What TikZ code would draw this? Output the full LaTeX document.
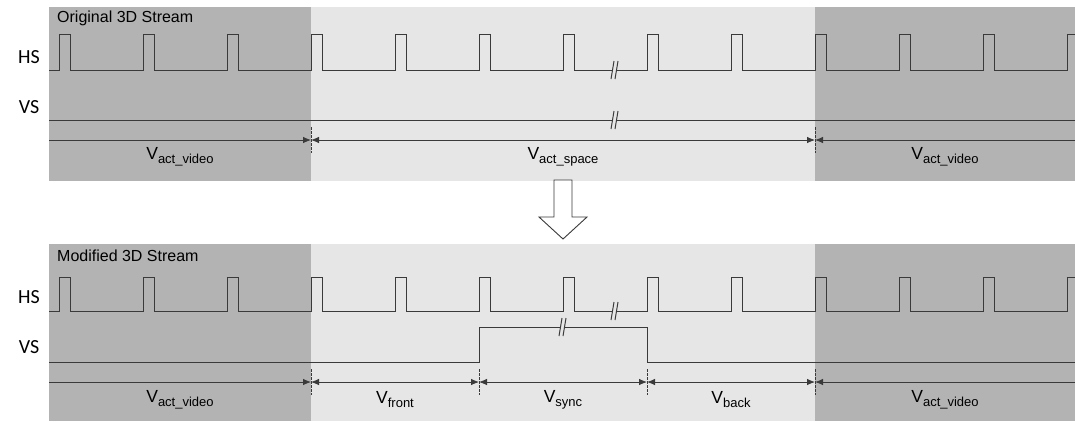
\documentclass[tikz,border=0pt]{standalone}
\usepackage{fontspec}
\setmainfont{Liberation Sans}
\newfontfamily\sigfont{Carlito}
\usetikzlibrary{calc, arrows.meta}

\definecolor{dark}{HTML}{B3B3B3}
\definecolor{lite}{HTML}{E6E6E6}
\definecolor{wire}{HTML}{3A3A3A}

\newcommand{\vsub}[1]{V\raisebox{-4pt}{\fontsize{13}{13}\selectfont #1}}

\tikzset{
	sig/.style={draw=wire, line width=1pt},
	dimline/.style={draw=wire, line width=0.85pt},
	tickline/.style={draw=wire, line width=0.7pt, dash pattern=on 2.5pt off 1.5pt},
	signame/.style={font=\sigfont\fontsize{20}{20}\selectfont, inner sep=0pt},
	heading/.style={font=\fontsize{16}{16}\selectfont, anchor=west, inner sep=0pt},
	spanlbl/.style={font=\fontsize{17.5}{17.5}\selectfont, inner sep=0pt}
}

\begin{document}
\begin{tikzpicture}[x=1pt, y=-1pt, every path/.style={>={Latex[length=8pt, width=6.5pt]}}]
	\useasboundingbox (0,0) rectangle (1075,421);

	% backgrounds
	\fill[dark] (49,7) rectangle (311,181);
	\fill[lite] (311,7) rectangle (815,181);
	\fill[dark] (815,7) rectangle (1075,181);
	\fill[dark] (49,244) rectangle (311,421);
	\fill[lite] (311,244) rectangle (815,421);
	\fill[dark] (815,244) rectangle (1075,421);

	\node[heading] (t1) at (57,18) {Original 3D Stream};
	\node[heading] (t2) at (57,256) {Modified 3D Stream};

	\node[signame] (hs1) at (29,57) {HS};
	\node[signame] (vs1) at (29,107) {VS};
	\node[signame] (hs2) at (29,297) {HS};
	\node[signame] (vs2) at (29,347) {VS};

	% HS waveforms
	\foreach \lo/\hi in {70/34, 311/277} {
		\draw[sig] (49,\lo) foreach \k in {0,...,11} {
			-- ({59+84*\k},\lo) -- ({59+84*\k},\hi) -- ({70+84*\k},\hi) -- ({70+84*\k},\lo)
		} -- (1067,\lo) -- (1067,\hi) -- (1075,\hi);
	}

	% VS waveforms
	\draw[sig] (49,120) -- (1075,120);
	\draw[sig] (49,362) -- (479,362) -- (479,327) -- (647,327) -- (647,362) -- (1075,362);

	% boundaries
	\foreach \n/\x in {a/311, b/815} {
		\coordinate (\n1) at (\x,140);
		\draw[tickline] (\x,127) -- (\x,153);
	}
	\coordinate (l1) at (49,140);
	\coordinate (r1) at (1075,140);
	\foreach \n/\x in {a/311, b/479, c/647, d/815} {
		\coordinate (\n2) at (\x,382);
		\draw[tickline] (\x,369) -- (\x,395);
	}
	\coordinate (l2) at (49,382);
	\coordinate (r2) at (1075,382);

	% spans
	\draw[dimline, ->] (l1) -- (a1);
	\draw[dimline, <->] (a1) -- (b1);
	\draw[dimline, <-] (b1) -- (r1);
	\draw[dimline, ->] (l2) -- (a2);
	\draw[dimline, <->] (a2) -- (b2);
	\draw[dimline, <->] (b2) -- (c2);
	\draw[dimline, <->] (c2) -- (d2);
	\draw[dimline, <-] (d2) -- (r2);

	\node[spanlbl] (s1) at (180,157) {\vsub{act\_video}};
	\node[spanlbl] (s2) at (563,157) {\vsub{act\_space}};
	\node[spanlbl] (s3) at (945,157) {\vsub{act\_video}};
	\node[spanlbl] (s4) at (180,400) {\vsub{act\_video}};
	\node[spanlbl] (s5) at (395,400) {\vsub{front}};
	\node[spanlbl] (s6) at (563,400) {\vsub{sync}};
	\node[spanlbl] (s7) at (731,400) {\vsub{back}};
	\node[spanlbl] (s8) at (945,400) {\vsub{act\_video}};

	% line breaks
	\foreach \bx/\by in {616/70, 616/120, 616/311, 564/327} {
		\fill[lite] ({\bx-5},{\by+9}) -- ({\bx-2},{\by-9}) -- ({\bx+2},{\by-9}) -- ({\bx-1},{\by+9}) -- cycle;
		\draw[sig] ({\bx-5},{\by+9}) -- ({\bx-2},{\by-9}) ({\bx-1},{\by+9}) -- ({\bx+2},{\by-9});
	}

	% block arrow
	\draw[sig, fill=white, line width=0.9pt] (554,180) -- (572,180) -- (572,217) -- (587,217)
		-- (563,239) -- (539,217) -- (554,217) -- cycle;
\end{tikzpicture}
\end{document}
